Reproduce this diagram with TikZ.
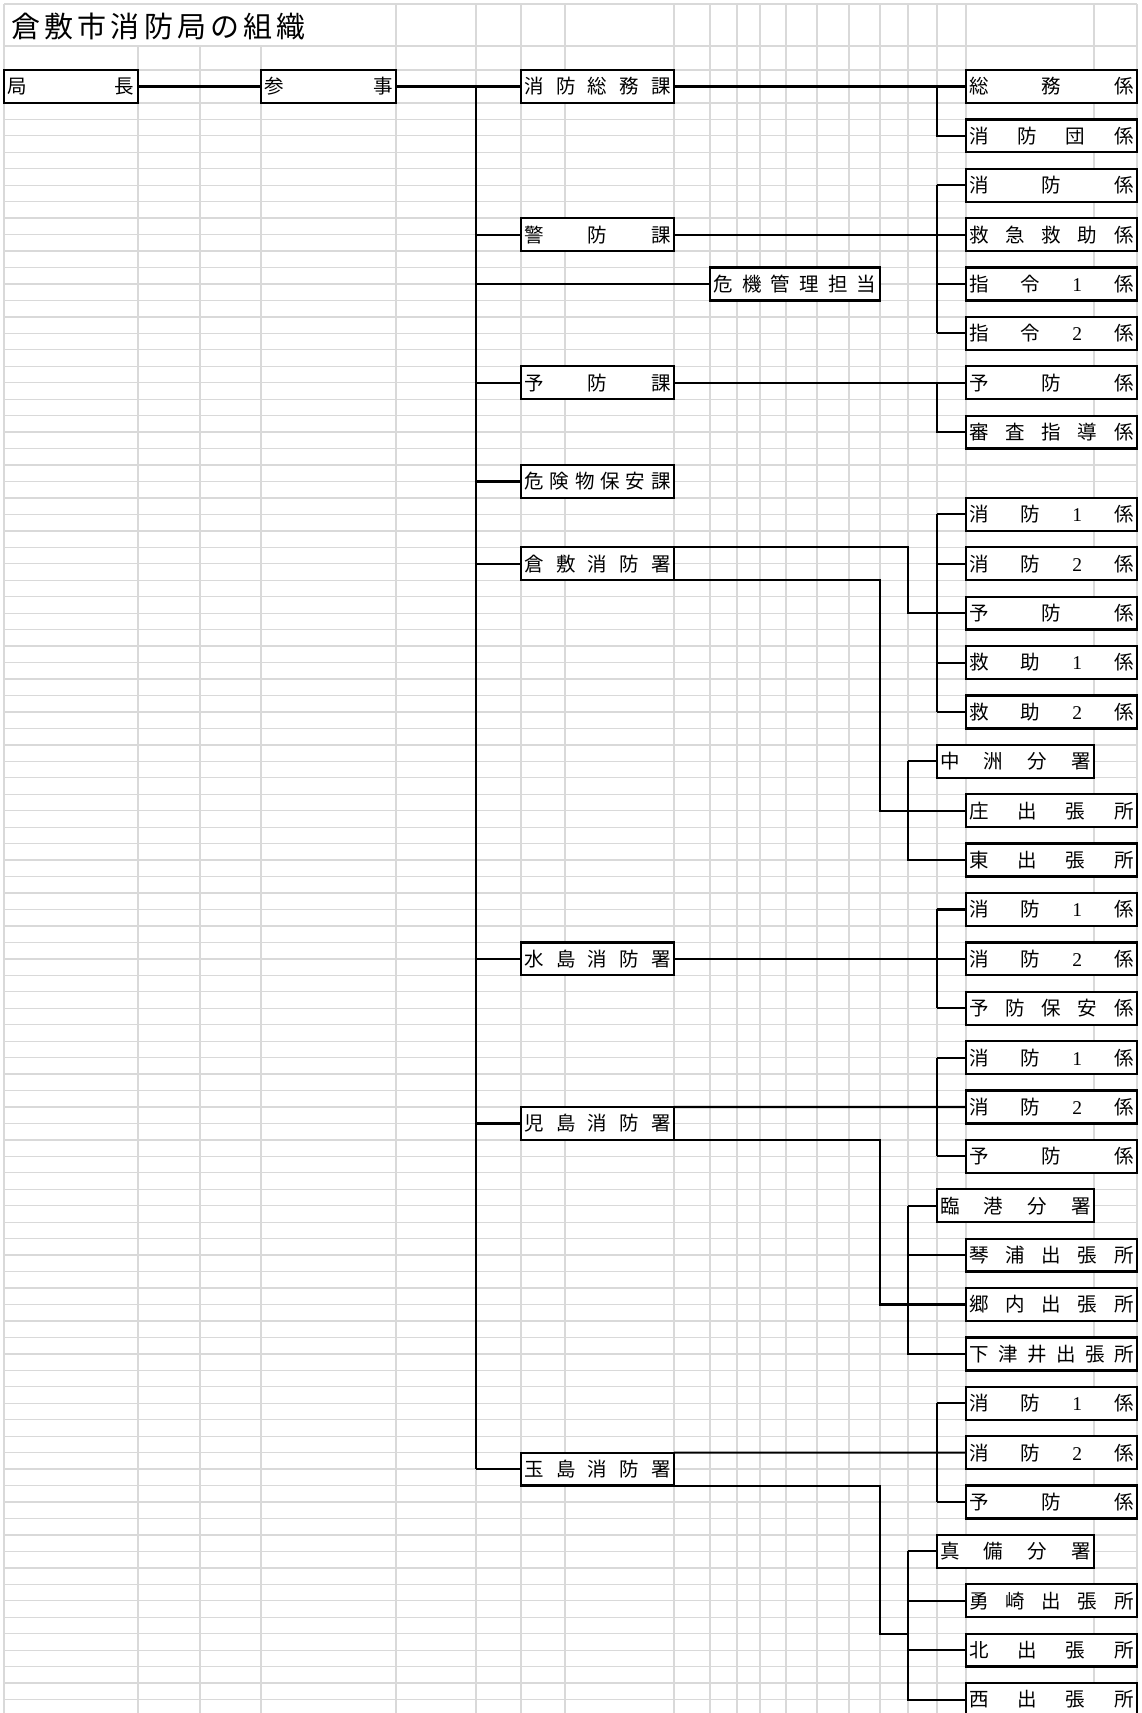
\documentclass[tikz,border=0pt]{standalone}
\usepackage{fontspec}
\newfontfamily\jp{Noto Sans CJK JP}
\newfontfamily\numf{Liberation Serif}
\newcommand\dA{{\numf 1}}
\newcommand\dB{{\numf 2}}
\makeatletter
\def\spreadit#1{\spread@a#1\relax}
\def\spread@a#1#2{#1\ifx\relax#2\else\hfill\expandafter\spread@a\fi#2}
\makeatother
\definecolor{gridc}{RGB}{217,217,217}
\newcommand\bx[5]{%
  \node[box, minimum width={#3-#2}, minimum height=32.92] (#1) at ({(#2+#3)/2},{R(#4)})
    {\makebox[\dimexpr #3pt-#2pt-7pt\relax]{\spreadit{#5}}};}
\newcommand\kk[3]{\bx{#1}{966}{1137}{#2}{#3}}
\newcommand\bs[3]{\bx{#1}{937}{1094}{#2}{#3}}
\begin{document}
\begin{tikzpicture}[x=1pt,y=-1pt,
  declare function={R(\k)=70+\k*16.46;},
  every node/.style={font=\jp\fontsize{19.5}{19.5}\selectfont},
  grid/.style={draw=gridc, line width=1.3pt},
  conn/.style={draw=black, line width=2.1pt},
  box/.style={rectangle, draw=black, fill=white, line width=2.3pt, inner sep=0pt, outer sep=0pt}]
\useasboundingbox (0,0) rectangle (1141,1713);
\clip (0,0) rectangle (1141,1713);
\fill[white] (0,0) rectangle (1141,1713);
% grid
\draw[grid] (4,4) -- (1137,4);
\draw[grid] (4,46) -- (1137,46);
\foreach \k in {0,...,99} \draw[grid] (4,{R(\k)}) -- (1137,{R(\k)});
\foreach \x in {4,396,476,521,565,674,710,737,760,786,817,849,880,908,937,966,1094,1137}
  \draw[grid] (\x,4) -- (\x,1713);
\foreach \x in {138,200,261} \draw[grid] (\x,46) -- (\x,1713);
% title
\node[anchor=west, font=\jp\fontsize{29}{29}\selectfont] (title) at (8,27)
  {\makebox[294pt]{\spreadit{倉敷市消防局の組織}}};
% column coordinates
\coordinate (X476) at (476,0);
\coordinate (X880) at (880,0);
\coordinate (X908) at (908,0);
\coordinate (X937) at (937,0);
% boxes
\bx{kyoku}{4}{138}{1}{局長}
\bx{sanji}{261}{396}{1}{参事}
\bx{somuka}{521}{674}{1}{消防総務課}
\bx{keibo}{521}{674}{10}{警防課}
\bx{kiki}{710}{880}{13}{危機管理担当}
\bx{yobo}{521}{674}{19}{予防課}
\bx{kiken}{521}{674}{25}{危険物保安課}
\bx{kura}{521}{674}{30}{倉敷消防署}
\bx{mizu}{521}{674}{54}{水島消防署}
\bx{koji}{521}{674}{64}{児島消防署}
\bx{tama}{521}{674}{85}{玉島消防署}
\kk{a1}{1}{総務係}
\kk{a4}{4}{消防団係}
\kk{b7}{7}{消防係}
\kk{b10}{10}{救急救助係}
\kk{b13}{13}{指令\dA 係}
\kk{b16}{16}{指令\dB 係}
\kk{c19}{19}{予防係}
\kk{c22}{22}{審査指導係}
\kk{d27}{27}{消防\dA 係}
\kk{d30}{30}{消防\dB 係}
\kk{d33}{33}{予防係}
\kk{d36}{36}{救助\dA 係}
\kk{d39}{39}{救助\dB 係}
\bs{nakasu}{42}{中洲分署}
\kk{d45}{45}{庄出張所}
\kk{d48}{48}{東出張所}
\kk{e51}{51}{消防\dA 係}
\kk{e54}{54}{消防\dB 係}
\kk{e57}{57}{予防保安係}
\kk{f60}{60}{消防\dA 係}
\kk{f63}{63}{消防\dB 係}
\kk{f66}{66}{予防係}
\bs{rinko}{69}{臨港分署}
\kk{f72}{72}{琴浦出張所}
\kk{f75}{75}{郷内出張所}
\kk{f78}{78}{下津井出張所}
\kk{g81}{81}{消防\dA 係}
\kk{g84}{84}{消防\dB 係}
\kk{g87}{87}{予防係}
\bs{mabi}{90}{真備分署}
\kk{g93}{93}{勇崎出張所}
\kk{g96}{96}{北出張所}
\kk{g99}{99}{西出張所}
% connectors
\draw[conn] (kyoku.east) -- (sanji.west);
\draw[conn] (sanji.east) -- (somuka.west);
\draw[conn] (somuka.west -| X476) -- (tama.west -| X476);
\foreach \n in {keibo,kiki,yobo,kiken,kura,mizu,koji,tama}
  \draw[conn] (\n.west -| X476) -- (\n.west);
% somuka
\draw[conn] (somuka.east) -- (a1.west);
\draw[conn] (a1.west -| X937) -- (a4.west -| X937) -- (a4.west);
% keibo
\draw[conn] (keibo.east) -- (b10.west);
\draw[conn] (b7.west -| X937) -- (b16.west -| X937);
\foreach \n in {b7,b13,b16} \draw[conn] (\n.west -| X937) -- (\n.west);
% yobo
\draw[conn] (yobo.east) -- (c19.west);
\draw[conn] (c19.west -| X937) -- (c22.west -| X937) -- (c22.west);
% kurashiki
\draw[conn] (kura.north east) -- (kura.north east -| X908) -- (d33.west -| X908) -- (d33.west);
\draw[conn] (d27.west -| X937) -- (d39.west -| X937);
\foreach \n in {d27,d30,d36,d39} \draw[conn] (\n.west -| X937) -- (\n.west);
\draw[conn] (kura.south east) -- (kura.south east -| X880) -- (d45.west -| X880) -- (d45.west);
\draw[conn] (nakasu.west -| X908) -- (d48.west -| X908) -- (d48.west);
\draw[conn] (nakasu.west -| X908) -- (nakasu.west);
% mizushima
\draw[conn] (mizu.east) -- (e54.west);
\draw[conn] (e51.west -| X937) -- (e57.west -| X937);
\foreach \n in {e51,e57} \draw[conn] (\n.west -| X937) -- (\n.west);
% kojima
\draw[conn] (koji.north east) -- (f63.west);
\draw[conn] (f60.west -| X937) -- (f66.west -| X937);
\foreach \n in {f60,f66} \draw[conn] (\n.west -| X937) -- (\n.west);
\draw[conn] (koji.south east) -- (koji.south east -| X880) -- (f75.west -| X880) -- (f75.west);
\draw[conn] (rinko.west -| X908) -- (f78.west -| X908) -- (f78.west);
\foreach \n in {rinko,f72} \draw[conn] (\n.west -| X908) -- (\n.west);
% tamashima
\draw[conn] (tama.north east) -- (g84.west);
\draw[conn] (g81.west -| X937) -- (g87.west -| X937);
\foreach \n in {g81,g87} \draw[conn] (\n.west -| X937) -- (\n.west);
\draw[conn] (tama.south east) -- (tama.south east -| X880) -- (g96.north west -| X880) -- (g96.north west -| X908);
\draw[conn] (mabi.west -| X908) -- (g99.west -| X908) -- (g99.west);
\foreach \n in {mabi,g93,g96} \draw[conn] (\n.west -| X908) -- (\n.west);
\end{tikzpicture}
\end{document}
